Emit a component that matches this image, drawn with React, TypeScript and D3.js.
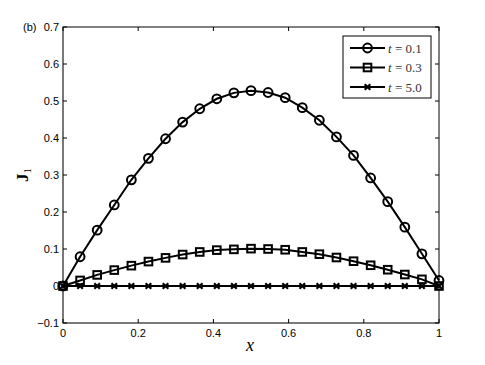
import React, { useRef, useEffect } from 'react';
import * as d3 from 'd3';

// 23 sample points, x = i / 22
const xs = d3.range(23).map(i => i / 22);
const j1t01 = [0, 0.079, 0.151, 0.219, 0.287, 0.345, 0.398, 0.443, 0.479, 0.506, 0.522, 0.528,
  0.523, 0.509, 0.482, 0.448, 0.403, 0.353, 0.292, 0.228, 0.159, 0.087, 0.015];
const j1t03 = [0, 0.015, 0.030, 0.043, 0.055, 0.066, 0.076, 0.085, 0.092, 0.097, 0.099, 0.101,
  0.100, 0.098, 0.092, 0.086, 0.077, 0.067, 0.056, 0.044, 0.031, 0.018, 0];
const j1t50 = [0, 0, 0, 0, 0, 0, 0, 0, 0, 0, 0, 0, 0, 0, 0, 0, 0, 0, 0, 0, 0, 0, 0];
const legendLabels = ['0.1', '0.3', '5.0'];
const xTicks = [0, 0.2, 0.4, 0.6, 0.8, 1];
const yTicks = [-0.1, 0, 0.1, 0.2, 0.3, 0.4, 0.5, 0.6, 0.7];

const series = [
  { values: j1t01, marker: 'circle' },
  { values: j1t03, marker: 'square' },
  { values: j1t50, marker: 'cross' },
];

const sansFont = "'Liberation Sans', Arial, sans-serif";
const serifFont = "'Liberation Serif', 'DejaVu Serif', serif";

function drawMarker(g, kind, x, y) {
  if (kind === 'circle') {
    g.append('circle').attr('cx', x).attr('cy', y).attr('r', 4.4)
      .attr('fill', 'none').attr('stroke', '#000').attr('stroke-width', 2);
  } else if (kind === 'square') {
    g.append('rect').attr('x', x - 3.8).attr('y', y - 3.8).attr('width', 7.6).attr('height', 7.6)
      .attr('fill', 'none').attr('stroke', '#000').attr('stroke-width', 2);
  } else {
    g.append('path').attr('d', `M${x - 2.8},${y - 2.8}L${x + 2.8},${y + 2.8}M${x - 2.8},${y + 2.8}L${x + 2.8},${y - 2.8}`)
      .attr('stroke', '#000').attr('stroke-width', 2.2);
  }
}

function Chart() {
  const svgRef = useRef(null);

  useEffect(() => {
    const svg = d3.select(svgRef.current);
    svg.selectAll('*').remove();

    const left = 63, right = 439, top = 27, bottom = 323;
    const x = d3.scaleLinear().domain([0, 1]).range([left, right]);
    const y = d3.scaleLinear().domain([-0.1, 0.7]).range([bottom, top]);

    // box
    svg.append('rect').attr('x', left).attr('y', top).attr('width', right - left).attr('height', bottom - top)
      .attr('fill', 'none').attr('stroke', '#000').attr('stroke-width', 1);
    svg.append('line').attr('x1', left).attr('x2', left).attr('y1', top).attr('y2', bottom)
      .attr('stroke', '#777').attr('stroke-width', 1.6);
    svg.append('line').attr('x1', left).attr('x2', right).attr('y1', bottom).attr('y2', bottom)
      .attr('stroke', '#777').attr('stroke-width', 1.6);

    // ticks (inward, mirrored)
    const ticks = svg.append('g').attr('stroke', '#000').attr('stroke-width', 1);
    xTicks.forEach(t => {
      ticks.append('line').attr('x1', x(t)).attr('x2', x(t)).attr('y1', bottom).attr('y2', bottom - 4);
      ticks.append('line').attr('x1', x(t)).attr('x2', x(t)).attr('y1', top).attr('y2', top + 4);
    });
    yTicks.forEach(t => {
      ticks.append('line').attr('x1', left).attr('x2', left + 4).attr('y1', y(t)).attr('y2', y(t));
      ticks.append('line').attr('x1', right).attr('x2', right - 4).attr('y1', y(t)).attr('y2', y(t));
    });

    svg.append('g').selectAll('text').data(xTicks).join('text')
      .attr('x', d => x(d)).attr('y', bottom + 14)
      .attr('text-anchor', 'middle').attr('font-family', sansFont).attr('font-size', 11)
      .text(d => d3.format('~g')(d));
    svg.append('g').selectAll('text').data(yTicks).join('text')
      .attr('x', left - 4).attr('y', d => y(d) + 4)
      .attr('text-anchor', 'end').attr('font-family', sansFont).attr('font-size', 11)
      .text(d => d3.format('~g')(d).replace('-', '\u2212'));

    // series
    const line = d3.line().x((d, i) => x(xs[i])).y(d => y(d));
    series.forEach(s => {
      const g = svg.append('g');
      g.append('path').datum(s.values).attr('d', line)
        .attr('fill', 'none').attr('stroke', '#000').attr('stroke-width', 2);
      s.values.forEach((v, i) => drawMarker(g, s.marker, x(xs[i]), y(v)));
    });

    // legend
    const lg = svg.append('g');
    lg.append('rect').attr('x', 343).attr('y', 36).attr('width', 88).attr('height', 62)
      .attr('fill', '#fff').attr('stroke', '#000').attr('stroke-width', 1);
    series.forEach((s, i) => {
      const ly = 48 + i * 19.5;
      lg.append('line').attr('x1', 350).attr('x2', 385).attr('y1', ly).attr('y2', ly)
        .attr('stroke', '#000').attr('stroke-width', 2);
      drawMarker(lg, s.marker, 367.5, ly);
      const t = lg.append('text').attr('x', 388).attr('y', ly + 4.5)
        .attr('font-family', serifFont).attr('font-size', 13).attr('fill', '#333');
      t.append('tspan').attr('font-style', 'italic').text('t');
      t.append('tspan').text(` = ${legendLabels[i]}`);
    });

    // labels
    svg.append('text').attr('x', 23).attr('y', 31).attr('font-family', sansFont).attr('font-size', 11).text('(b)');
    svg.append('text').attr('x', 250).attr('y', 351).attr('text-anchor', 'middle')
      .attr('font-family', serifFont).attr('font-style', 'italic').attr('font-size', 18).text('x');
    const yl = svg.append('text').attr('transform', 'translate(28,175) rotate(-90)').attr('text-anchor', 'middle')
      .attr('font-family', serifFont).attr('font-weight', 'bold').attr('font-size', 17);
    yl.append('tspan').text('J');
    yl.append('tspan').attr('font-size', 11).attr('dy', 3).attr('font-weight', 'normal').text('1');
  }, []);

  return <svg ref={svgRef} width={485} height={365} style={{ display: 'block' }} />;
}

export default function App() {
  return (
    <div style={{ position: 'absolute', left: 0, top: 0, background: '#fff' }}>
      <Chart />
    </div>
  );
}
